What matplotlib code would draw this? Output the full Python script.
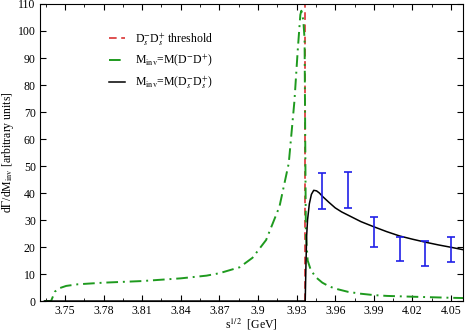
import numpy as np
import matplotlib.pyplot as plt

plt.rcParams['font.family'] = ['Liberation Serif', 'DejaVu Serif']
plt.rcParams['mathtext.fontset'] = 'stix'

# threshold position (GeV)
threshold = 3.9367

# M_inv = M(D- D+) curve
green_x = [3.734, 3.7392, 3.7422, 3.746, 3.751, 3.76, 3.78, 3.81, 3.84, 3.86, 3.87,
           3.8857, 3.8957, 3.9063, 3.9167, 3.9239, 3.9283, 3.9309, 3.9329, 3.9337,
           3.9352, 3.9362, 3.9367, 3.9372, 3.9386, 3.941, 3.945, 3.95, 3.955, 3.96,
           3.97, 3.98, 3.99, 4.0, 4.02, 4.05, 4.06]
green_y = [0.0, 0.0, 3.5, 4.8, 5.6, 6.2, 6.8, 7.4, 8.4, 9.4, 10.3,
           12.5, 16.0, 22.6, 35.0, 51.0, 74.0, 93.0, 106.0, 107.5,
           104.0, 97.0, 60.0, 25.0, 15.0, 11.5, 8.8, 6.8, 5.5, 4.6,
           3.4, 2.7, 2.2, 1.9, 1.6, 1.2, 1.1]

# M_inv = M(Ds- Ds+) curve
black_x = [3.734, 3.9367, 3.9372, 3.9378, 3.9385, 3.9399, 3.9415, 3.9433, 3.9455,
           3.9477, 3.95, 3.955, 3.96, 3.965, 3.97, 3.98, 3.99, 4.0, 4.01, 4.02,
           4.03, 4.04, 4.05, 4.0605]
black_y = [0.0, 0.0, 12.0, 24.0, 30.0, 36.0, 39.5, 41.0, 40.8,
           40.0, 38.8, 36.6, 34.5, 33.0, 31.8, 29.4, 27.5, 25.7, 24.1, 22.9,
           21.8, 20.8, 19.9, 18.9]

# data with error bars
data_x = [3.95, 3.97, 3.99, 4.01, 4.03, 4.05]
data_lo = [34.0, 34.6, 19.9, 14.9, 13.1, 14.4]
data_hi = [47.3, 47.7, 31.2, 23.8, 22.3, 23.6]

fig = plt.figure(figsize=(4.65, 3.33), dpi=100)
ax = fig.add_axes([0.086, 0.096, 0.9097, 0.892])

ax.axvline(threshold, color='#d62020', ls=(0, (5, 3)), lw=1.1, label=r'D$_s^{-}$D$_s^{+}$ threshold')
ax.plot(green_x, green_y, color='#1e9a1e', ls=(0, (6, 2.5, 1, 2.5)), lw=1.4,
        label=r'M$_{\rm inv}$=M(D$^{-}$D$^{+}$)')
ax.plot(black_x, black_y, color='black', lw=1.1, label=r'M$_{\rm inv}$=M(D$_s^{-}$D$_s^{+}$)')

mid = [(a + b) / 2 for a, b in zip(data_lo, data_hi)]
err = [(b - a) / 2 for a, b in zip(data_lo, data_hi)]
ax.errorbar(data_x, mid, yerr=err, fmt='none', ecolor='#2020e8', elinewidth=1.2,
            capsize=3, capthick=1.2)

ax.set_xlim(3.7306, 4.0593)
ax.set_ylim(0, 110)
ax.set_xticks([3.75, 3.78, 3.81, 3.84, 3.87, 3.9, 3.93, 3.96, 3.99, 4.02, 4.05])
ax.set_xticklabels(['3.75', '3.78', '3.81', '3.84', '3.87', '3.9', '3.93', '3.96',
                    '3.99', '4.02', '4.05'])
ax.set_xticks(np.arange(3.735, 4.06, 0.03), minor=True)
ax.set_yticks(range(0, 111, 10))
ax.tick_params(which='both', direction='in', top=True, right=True, labelsize=8.5, pad=3)
ax.tick_params(which='major', length=4)
ax.tick_params(which='minor', length=2)

ax.set_xlabel(r's$^{1/2}$  [GeV]', fontsize=8.5)
ax.xaxis.set_label_coords(0.5, -0.053)
ax.set_ylabel(r'd$\Gamma$/dM$_{\rm inv}$ [arbitrary units]', fontsize=8.5)
ax.yaxis.set_label_coords(-0.057, 0.5)

ax.legend(loc='upper left', bbox_to_anchor=(0.137, 0.945), frameon=False, fontsize=8.5,
          handlelength=1.4, handletextpad=0.85, labelspacing=0.45)

fig.savefig('out.png', dpi=100)
